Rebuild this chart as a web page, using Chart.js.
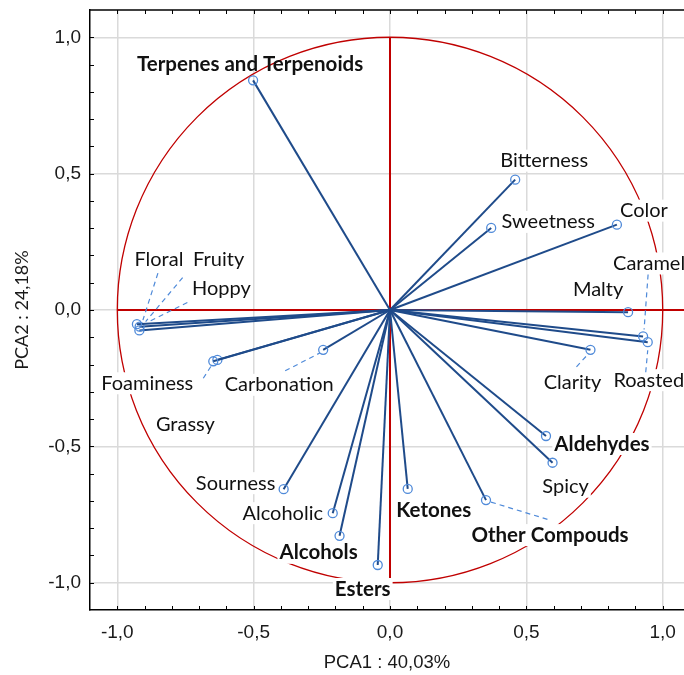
<!DOCTYPE html>
<html>
<head>
<meta charset="utf-8">
<script src="https://cdn.jsdelivr.net/npm/chart.js@4.4.1/dist/chart.umd.min.js"></script>
<style>
  html, body { margin: 0; padding: 0; background: #fff; }
  canvas { display: block; }
</style>
</head>
<body>
<canvas id="pca" width="684" height="675"></canvas>
<script>
// Données (coordonnées PCA1 / PCA2)
const variables = [
    'Terpenes and Terpenoids', 'Bitterness', 'Sweetness', 'Color', 'Caramel', 'Malty',
    'Roasted', 'Clarity', 'Aldehydes', 'Spicy', 'Other Compouds', 'Ketones', 'Esters',
    'Alcohols', 'Alcoholic', 'Sourness', 'Carbonation', 'Foaminess', 'Grassy',
    'Floral', 'Fruity', 'Hoppy'
];
const pca1 = [
    -0.502, 0.459, 0.371, 0.832, 0.928, 0.873,
    0.945, 0.735, 0.572, 0.596, 0.352, 0.065, -0.045,
    -0.185, -0.210, -0.390, -0.245, -0.648, -0.633,
    -0.928, -0.918, -0.919
];
const pca2 = [
    0.842, 0.478, 0.301, 0.313, -0.097, -0.008,
    -0.118, -0.146, -0.462, -0.560, -0.697, -0.656, -0.935,
    -0.828, -0.745, -0.657, -0.146, -0.188, -0.183,
    -0.052, -0.061, -0.075
];
const boldVariables = ['Terpenes and Terpenoids', 'Aldehydes', 'Other Compouds', 'Ketones', 'Esters', 'Alcohols'];

const tickValues = [-1, -0.5, 0, 0.5, 1];
const tickLabels = ['-1,0', '-0,5', '0,0', '0,5', '1,0'];
const xTitle = 'PCA1 : 40,03%';
const yTitle = 'PCA2 : 24,18%';

// Position des étiquettes (décalage en pixels par rapport au point)
const labelOffsets = [
    [-3, -16], [29, -19], [57, -6], [27, -14], [6, -73], [-30, -23],
    [1, 38], [-18, 33], [56, 8], [13, 24], [64, 35], [26, 21], [-15, 24],
    [-21, 17], [-50, 0], [-48, -6], [-44, 35], [-66, 22], [-32, 65],
    [22, -65], [79, -67], [82, -42]
];
// Traits pointillés de rappel : [dx1, dy1, dx2, dy2] relatifs au point
const leaders = {
    'Caramel': [5, -62, 1, -7],
    'Roasted': [-2, 30, 0, 8],
    'Clarity': [-14, 17, -2, 4],
    'Other Compouds': [5, 2, 64, 20],
    'Carbonation': [-38, 21, -3, 3],
    'Foaminess': [-10, 17, -1, 3],
    'Floral': [21, -51, 6, -4],
    'Fruity': [43, -49, 6, -5],
    'Hoppy': [48, -28, 8, -8]
};
const noBackground = ['Terpenes and Terpenoids'];

const RED = '#c00000';
const LINE_BLUE = '#1f4b8a';
const POINT_BLUE = '#4f8ad9';
const LABEL_FONT = 'Lato';

function labelFont(name) {
    return boldVariables.includes(name) ? 'bold 20.5px ' + LABEL_FONT : '20px ' + LABEL_FONT;
}

function labelCenter(i, x, y) {
    const px = x.getPixelForValue(pca1[i]);
    const py = y.getPixelForValue(pca2[i]);
    return [px + labelOffsets[i][0], py + labelOffsets[i][1]];
}

// Cercle de corrélation, axes rouges, cadre et graduations internes
const decorPlugin = {
    id: 'decor',
    beforeDatasetsDraw(chart) {
        const { ctx, chartArea: a, scales: { x, y } } = chart;
        ctx.save();

        // cadre du haut
        ctx.strokeStyle = '#000';
        ctx.lineWidth = 1.5;
        ctx.beginPath();
        ctx.moveTo(a.left, a.top);
        ctx.lineTo(chart.width, a.top);
        ctx.stroke();

        // petites graduations vers l'intérieur
        ctx.lineWidth = 1;
        for (let i = -11; i <= 11; i++) {
            const v = i / 10;
            const px = Math.round(x.getPixelForValue(v)) + 0.5;
            const py = Math.round(y.getPixelForValue(v)) + 0.5;
            if (px > a.left + 2 && px < chart.width) {
                ctx.beginPath();
                ctx.moveTo(px, a.bottom);
                ctx.lineTo(px, a.bottom - 4);
                ctx.moveTo(px, a.top);
                ctx.lineTo(px, a.top + 4);
                ctx.stroke();
            }
            if (py > a.top + 2 && py < a.bottom - 2) {
                ctx.beginPath();
                ctx.moveTo(a.left, py);
                ctx.lineTo(a.left + 4, py);
                ctx.stroke();
            }
        }

        // cercle unité
        const cx = x.getPixelForValue(0);
        const cy = y.getPixelForValue(0);
        const rx = x.getPixelForValue(1) - cx;
        const ry = cy - y.getPixelForValue(1);
        ctx.strokeStyle = RED;
        ctx.lineWidth = 1.3;
        ctx.beginPath();
        ctx.ellipse(cx, cy, rx, ry, 0, 0, Math.PI * 2);
        ctx.stroke();

        // axes rouges
        ctx.lineWidth = 2;
        ctx.beginPath();
        ctx.moveTo(x.getPixelForValue(-1), cy);
        ctx.lineTo(chart.width, cy);
        ctx.moveTo(cx, y.getPixelForValue(1));
        ctx.lineTo(cx, y.getPixelForValue(-1));
        ctx.stroke();

        // fond blanc des étiquettes
        ctx.fillStyle = '#fff';
        variables.forEach((name, i) => {
            if (noBackground.includes(name)) return;
            ctx.font = labelFont(name);
            const w = ctx.measureText(name).width;
            const [lx, ly] = labelCenter(i, x, y);
            ctx.fillRect(lx - w / 2 - 2, ly - 11, w + 4, 22);
        });
        ctx.restore();
    },
    afterDatasetsDraw(chart) {
        const { ctx, scales: { x, y } } = chart;
        ctx.save();

        // traits de rappel
        ctx.strokeStyle = POINT_BLUE;
        ctx.lineWidth = 1.2;
        ctx.setLineDash([5, 4]);
        variables.forEach((name, i) => {
            const l = leaders[name];
            if (!l) return;
            const px = x.getPixelForValue(pca1[i]);
            const py = y.getPixelForValue(pca2[i]);
            ctx.beginPath();
            ctx.moveTo(px + l[0], py + l[1]);
            ctx.lineTo(px + l[2], py + l[3]);
            ctx.stroke();
        });
        ctx.setLineDash([]);

        // étiquettes
        ctx.fillStyle = '#111';
        ctx.textAlign = 'center';
        ctx.textBaseline = 'middle';
        variables.forEach((name, i) => {
            ctx.font = labelFont(name);
            const [lx, ly] = labelCenter(i, x, y);
            ctx.fillText(name, lx, ly);
        });
        ctx.restore();
    }
};

const datasets = variables.map((name, i) => ({
    label: name,
    data: [{ x: 0, y: 0 }, { x: pca1[i], y: pca2[i] }],
    showLine: true,
    borderColor: LINE_BLUE,
    borderWidth: 2,
    pointRadius: ctx => ctx.dataIndex === 1 ? 4.5 : 0,
    pointBorderColor: POINT_BLUE,
    pointBackgroundColor: 'rgba(0,0,0,0)',
    pointBorderWidth: 1.3
}));

const tickFont = { family: 'Liberation Sans', size: 19 };

new Chart(document.getElementById('pca').getContext('2d'), {
    type: 'scatter',
    data: { datasets: datasets },
    options: {
        responsive: false,
        animation: false,
        devicePixelRatio: 1,
        layout: { padding: 0, autoPadding: false },
        clip: false,
        plugins: {
            legend: { display: false },
            tooltip: { enabled: false }
        },
        scales: {
            x: {
                type: 'linear',
                min: -1.1,
                max: 1.078,
                afterBuildTicks: scale => { scale.ticks = tickValues.map(v => ({ value: v })); },
                afterFit: scale => {
                    scale.height = 65;
                    scale.paddingLeft = 0;
                    scale.paddingRight = 0;
                },
                ticks: {
                    callback: (v, i) => tickLabels[i],
                    font: tickFont,
                    color: '#1a1a1a',
                    padding: 11,
                    maxRotation: 0
                },
                grid: { color: '#dadada', lineWidth: 1.5, drawTicks: false },
                border: { color: '#000', width: 1.5 },
                title: {
                    display: true,
                    text: xTitle,
                    font: { family: 'Liberation Sans', size: 18.5 },
                    color: '#1a1a1a',
                    padding: { top: 0, bottom: 1 }
                }
            },
            y: {
                type: 'linear',
                min: -1.1,
                max: 1.1,
                afterBuildTicks: scale => { scale.ticks = tickValues.map(v => ({ value: v })); },
                afterFit: scale => {
                    scale.width = 90;
                    scale.paddingTop = 10;
                    scale.paddingBottom = 0;
                },
                ticks: {
                    callback: (v, i) => tickLabels[i],
                    font: tickFont,
                    color: '#1a1a1a',
                    padding: 9
                },
                grid: { color: '#dadada', lineWidth: 1.5, drawTicks: false },
                border: { color: '#000', width: 1.5 },
                title: {
                    display: true,
                    text: yTitle,
                    font: { family: LABEL_FONT, size: 18 },
                    color: '#1a1a1a',
                    padding: { top: 11, bottom: 0 }
                }
            }
        }
    },
    plugins: [decorPlugin]
});
</script>
</body>
</html>
